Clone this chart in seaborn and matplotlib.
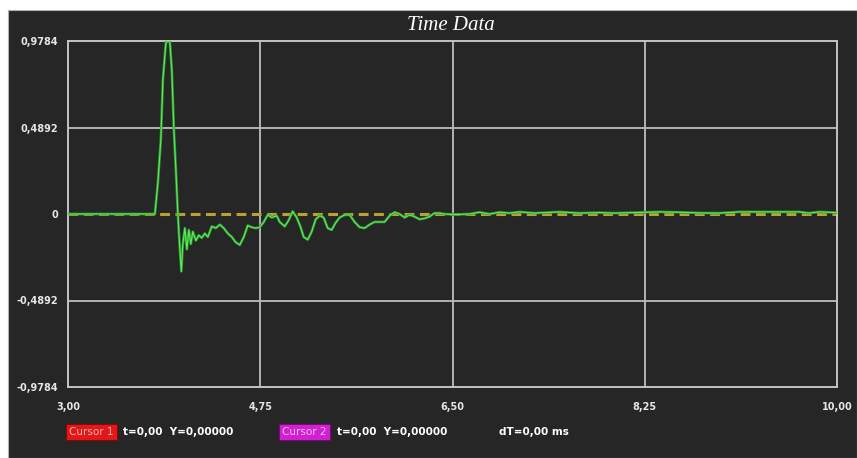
import numpy as np
import pandas as pd
import matplotlib
matplotlib.use("Agg")
import matplotlib.pyplot as plt
from matplotlib.patches import Rectangle
import seaborn as sns

# ---- data ----
time_ms = [3.000, 3.791, 3.818, 3.845, 3.864, 3.891, 3.909, 3.927, 3.945, 3.964,
           3.982, 4.000, 4.018, 4.032, 4.045, 4.064, 4.082, 4.100, 4.118, 4.136,
           4.164, 4.191, 4.218, 4.245, 4.273, 4.309, 4.345, 4.382, 4.418, 4.455,
           4.491, 4.527, 4.564, 4.600, 4.636, 4.673, 4.709, 4.745, 4.782, 4.818,
           4.855, 4.900, 4.927, 4.973, 5.009, 5.045, 5.082, 5.118, 5.145, 5.182,
           5.218, 5.255, 5.291, 5.327, 5.364, 5.400, 5.436, 5.473, 5.518, 5.564,
           5.609, 5.655, 5.700, 5.745, 5.791, 5.836, 5.882, 5.927, 5.973, 6.018,
           6.064, 6.109, 6.155, 6.200, 6.245, 6.291, 6.336, 6.382, 6.427, 6.518,
           6.655, 6.745, 6.836, 6.927, 7.018, 7.109, 7.245, 7.473, 7.655, 7.836,
           7.973, 8.382, 8.564, 8.745, 8.927, 9.109, 9.382, 9.655, 9.745, 9.836,
           10.000]
amplitude = [0.000, 0.000, 0.175, 0.420, 0.760, 0.967, 0.978, 0.973, 0.815, 0.475,
             0.250, 0.000, -0.200, -0.325, -0.170, -0.080, -0.200, -0.090, -0.170, -0.100,
             -0.150, -0.120, -0.135, -0.110, -0.130, -0.070, -0.080, -0.060, -0.080, -0.110,
             -0.130, -0.160, -0.175, -0.130, -0.065, -0.075, -0.080, -0.075, -0.045, -0.005,
             -0.020, -0.010, -0.045, -0.070, -0.035, 0.015, -0.020, -0.075, -0.130, -0.145,
             -0.100, -0.030, -0.010, -0.020, -0.080, -0.090, -0.050, -0.020, -0.005, -0.005,
             -0.045, -0.075, -0.080, -0.060, -0.045, -0.045, -0.045, -0.010, 0.010, 0.000,
             -0.020, -0.005, -0.015, -0.030, -0.025, -0.015, 0.005, 0.005, 0.000, -0.003,
             0.000, 0.010, 0.000, 0.010, 0.005, 0.012, 0.005, 0.012, 0.005, 0.008,
             0.005, 0.012, 0.010, 0.006, 0.005, 0.012, 0.012, 0.012, 0.005, 0.012,
             0.008]
x_ticks = [3.00, 4.75, 6.50, 8.25, 10.00]
x_tick_labels = ["3,00", "4,75", "6,50", "8,25", "10,00"]
y_ticks = [0.9784, 0.4892, 0.0, -0.4892, -0.9784]
y_tick_labels = ["0,9784", "0,4892", "0", "-0,4892", "-0,9784"]

df = pd.DataFrame({"t": time_ms, "y": amplitude})

sns.set_theme(style="dark")
plt.rcParams["font.family"] = ["DejaVu Sans"]

W, H = 857, 458
BG = "#262626"
fig = plt.figure(figsize=(W / 100, H / 100), dpi=100, facecolor="white")
# dark instrument panel (behind the axes)
fig.patches.append(Rectangle((8 / W, 0), (W - 8) / W, (H - 10) / H,
                             transform=fig.transFigure, facecolor=BG,
                             edgecolor="#b0b0b0", linewidth=0.8, zorder=-10))

ax = fig.add_axes([68 / W, (H - 387) / H, (837 - 68) / W, (387 - 41) / H])
ax.set_facecolor(BG)

# grid lines
for gx in x_ticks[1:-1]:
    ax.axvline(gx, color="#bdbdbd", lw=1.3, zorder=1)
for gy in (y_ticks[1], y_ticks[3]):
    ax.axhline(gy, color="#bdbdbd", lw=1.3, zorder=1)
# dashed zero reference
ax.axhline(0, color="#b9a22e", lw=2.2, ls=(0, (3.2, 1.8)), zorder=2)

sns.lineplot(data=df, x="t", y="y", ax=ax, color="#2a962a", lw=1.9, zorder=3)
sns.lineplot(data=df, x="t", y="y", ax=ax, color="#62e862", lw=0.8, zorder=4)

ax.set_xlim(3.0, 10.0)
ax.set_ylim(-0.9784, 0.9784)
ax.set_xticks(x_ticks)
ax.set_xticklabels(x_tick_labels)
ax.set_yticks(y_ticks)
ax.set_yticklabels(y_tick_labels)
ax.tick_params(axis="both", length=0, colors="#e6e6e6", labelsize=7)
ax.tick_params(axis="x", pad=11)
ax.tick_params(axis="y", pad=7)
for lab in ax.get_xticklabels() + ax.get_yticklabels():
    lab.set_fontweight("bold")
ax.set_xlabel("")
ax.set_ylabel("")
for sp in ax.spines.values():
    sp.set_visible(True)
    sp.set_color("#c4c4c4")
    sp.set_linewidth(1.4)
ax.grid(False)

fig.text(451 / W, (H - 25) / H, "Time Data", ha="center", va="center",
         color="white", fontsize=15, style="italic", family="Liberation Serif")

# cursor status line
ty = (H - 432) / H
fig.text(69 / W, ty, "Cursor 1", ha="left", va="center", fontsize=7.5,
         color="#f0b0b0", bbox=dict(boxstyle="square,pad=0.3", fc="#e01818", ec="#900000", lw=0.6))
fig.text(123 / W, ty, "t=0,00  Y=0,00000", ha="left", va="center",
         fontsize=7.5, color="white", fontweight="bold")
fig.text(282 / W, ty, "Cursor 2", ha="left", va="center", fontsize=7.5,
         color="#f0c0f0", bbox=dict(boxstyle="square,pad=0.3", fc="#d020d0", ec="#800080", lw=0.6))
fig.text(337 / W, ty, "t=0,00  Y=0,00000", ha="left", va="center",
         fontsize=7.5, color="white", fontweight="bold")
fig.text(499 / W, ty, "dT=0,00 ms", ha="left", va="center",
         fontsize=7.5, color="white", fontweight="bold")

fig.savefig("out.png", dpi=100, facecolor=fig.get_facecolor())
